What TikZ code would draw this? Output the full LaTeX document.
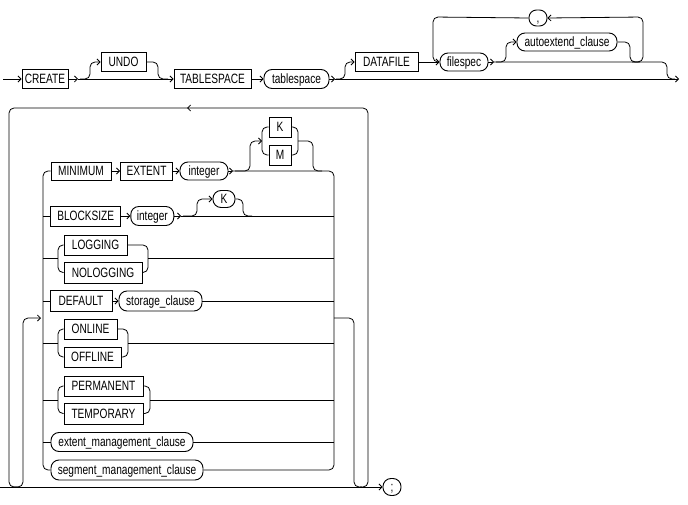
\documentclass[tikz,border=0pt]{standalone}
\usepackage{fontspec}
\newfontfamily\rrfont{Liberation Sans}[FakeStretch=0.75]
\usetikzlibrary{arrows.meta}
\tikzset{
  kw/.style={draw, line width=0.9pt, inner sep=0pt, font=\rrfont\fontsize{13.5}{14}\selectfont,
             text height=9.6pt, text depth=0pt, minimum height=19pt},
  nt/.style={kw, rounded corners=8pt},
  ln/.style={line width=0.8pt},
  ar/.style={ln, -{Straight Barb[length=3pt,width=6pt]}},
  rc/.style={rounded corners=5pt},
}
\begin{document}
\begin{tikzpicture}[x=1pt,y=-1pt]
\useasboundingbox (0,0) rectangle (688,505);
% ---------- row 1 ----------
\node[kw, minimum width=46pt] (create) at (45,79) {CREATE};
\node[kw, minimum width=45pt] (undo) at (123.5,62) {UNDO};
\node[kw, minimum width=77pt] (tbs) at (212.5,79) {TABLESPACE};
\node[nt, minimum width=65pt] (tbsname) at (296.5,79) {tablespace};
\node[kw, minimum width=63pt] (datafile) at (386.5,62) {DATAFILE};
\node[nt, minimum width=48pt, minimum height=18pt] (filespec) at (464,62) {filespec};
\node[nt, minimum width=100pt, minimum height=18pt] (autoext) at (567,42) {autoextend\_clause};
\node[nt, minimum width=18pt, minimum height=16pt, rounded corners=7.5pt] (comma) at (538,18) {,};
\coordinate (s1) at (3,79);
\coordinate (e1) at (679,79);
\draw[ar] (s1) -- (create.west);
\draw[ar] (create.east) -- (78,79);
\draw[ar] (78,79) -- (tbs.west);
\draw[ar, rc] (80,79) -- (90,79) -- (90,62) -- (undo.west);
\draw[ln, rc] (undo.east) -- (158,62) -- (158,79) -- (168,79);
\draw[ar] (tbs.east) -- (tbsname.west);
\draw[ar] (tbsname.east) -- (335,79);
\draw[ar] (335,79) -- (e1);
\draw[ar, rc] (336,79) -- (345,79) -- (345,62) -- (datafile.west);
\draw[ar] (datafile.east) -- (filespec.west);
\draw[ar] (filespec.east) -- (494,62);
\draw[ln, rc] (494,62) -- (667,62) -- (667,79) -- (675,79);
\draw[ar, rc] (496,62) -- (506,62) -- (506,42) -- (autoext.west);
\draw[ln, rc] (autoext.east) -- (630,42) -- (630,62) -- (640,62);
\draw[ar, rc] (632,62) -- (643,62) -- (643,17) -- (comma.east);
\draw[ln, rc] (comma.west) -- (433,17) -- (433,62) -- (439,62);
% ---------- row 2 ----------
\node[kw, minimum width=60pt, minimum height=18pt] (minimum) at (81,171) {MINIMUM};
\node[kw, minimum width=52pt, minimum height=18pt] (extent) at (146.5,171) {EXTENT};
\node[nt, minimum width=48pt, minimum height=18pt] (intA) at (204,171) {integer};
\node[kw, minimum width=22pt, minimum height=20pt] (kA) at (280,127) {K};
\node[kw, minimum width=22pt, minimum height=20pt] (mA) at (280,155) {M};
\node[kw, minimum width=70pt, minimum height=20pt] (blk) at (85.7,216) {BLOCKSIZE};
\node[nt, minimum width=43pt, minimum height=19pt] (intB) at (152.3,216) {integer};
\node[nt, minimum width=22pt, minimum height=17pt, rounded corners=8pt] (kB) at (224,199) {K};
\node[kw, minimum width=63pt, minimum height=20pt] (log) at (95.5,245) {LOGGING};
\node[kw, minimum width=78pt, minimum height=21pt] (nolog) at (103,272.5) {NOLOGGING};
\node[kw, minimum width=62pt, minimum height=21pt] (dflt) at (81,301) {DEFAULT};
\node[nt, minimum width=83pt, minimum height=20pt] (stor) at (160.5,301) {storage\_clause};
\node[kw, minimum width=53pt, minimum height=20pt] (onl) at (90.5,329) {ONLINE};
\node[kw, minimum width=57pt, minimum height=20pt] (offl) at (92.5,357) {OFFLINE};
\node[kw, minimum width=79pt, minimum height=20pt] (perm) at (103.5,386) {PERMANENT};
\node[kw, minimum width=79pt, minimum height=21pt] (temp) at (103.5,413.5) {TEMPORARY};
\node[nt, minimum width=142pt, minimum height=19pt] (extm) at (122,442) {extent\_management\_clause};
\node[nt, minimum width=152pt, minimum height=20pt] (segm) at (127,470) {segment\_management\_clause};
\node[nt, minimum width=18pt, minimum height=17pt, rounded corners=8pt] (semi) at (392,487) {;};
\coordinate (s2) at (0,487);
% main line and loops
\draw[ar] (s2) -- (semi.west);
\draw[ln, rc] (189,108) -- (9,108) -- (9,487) -- (18,487);
\draw[ar, rc] (360,487) -- (368,487) -- (368,108) -- (187,108);
\draw[ar, rc] (14,487) -- (23,487) -- (23,318) -- (41,318);
\draw[ln, rc] (334,318) -- (354,318) -- (354,487) -- (362,487);
% buses
\draw[ln, rc] (minimum.west) -- (43,171) -- (43,470) -- (segm.west);
\draw[ln, rc] (233,171) -- (334,171) -- (334,470) -- (segm.east);
% MINIMUM EXTENT
\draw[ar] (minimum.east) -- (extent.west);
\draw[ar] (extent.east) -- (intA.west);
\draw[ar] (intA.east) -- (233,171);
\draw[ar, rc] (235,171) -- (250,171) -- (250,141) -- (262,141);
\draw[ln, rc] (kA.west) -- (262,127) -- (262,155) -- (mA.west);
\draw[ln, rc] (kA.east) -- (298,127) -- (298,155) -- (mA.east);
\draw[ln, rc] (298,141) -- (313,141) -- (313,171) -- (322,171);
% BLOCKSIZE
\draw[ln] (43,216) -- (blk.west);
\draw[ar] (blk.east) -- (intB.west);
\draw[ar] (intB.east) -- (181,216);
\draw[ln] (181,216) -- (334,216);
\draw[ar, rc] (183,216) -- (197,216) -- (197,199) -- (kB.west);
\draw[ln, rc] (kB.east) -- (243,199) -- (243,216) -- (252,216);
% LOGGING
\draw[ln] (43,258) -- (58,258);
\draw[ln, rc] (log.west) -- (58,245) -- (58,272.5) -- (nolog.west);
\draw[ln, rc] (log.east) -- (148,245) -- (148,272.5) -- (nolog.east);
\draw[ln] (148,258) -- (334,258);
% DEFAULT
\draw[ln] (43,301) -- (dflt.west);
\draw[ar] (dflt.east) -- (stor.west);
\draw[ln] (stor.east) -- (334,301);
% ONLINE
\draw[ln] (43,343) -- (58,343);
\draw[ln, rc] (onl.west) -- (58,329) -- (58,357) -- (offl.west);
\draw[ln, rc] (onl.east) -- (128,329) -- (128,357) -- (offl.east);
\draw[ln] (128,343) -- (334,343);
% PERMANENT
\draw[ln] (43,400) -- (58,400);
\draw[ln, rc] (perm.west) -- (58,386) -- (58,413.5) -- (temp.west);
\draw[ln, rc] (perm.east) -- (150,386) -- (150,413.5) -- (temp.east);
\draw[ln] (150,400) -- (334,400);
% extent management
\draw[ln] (43,442) -- (extm.west);
\draw[ln] (extm.east) -- (334,442);
\end{tikzpicture}
\end{document}
